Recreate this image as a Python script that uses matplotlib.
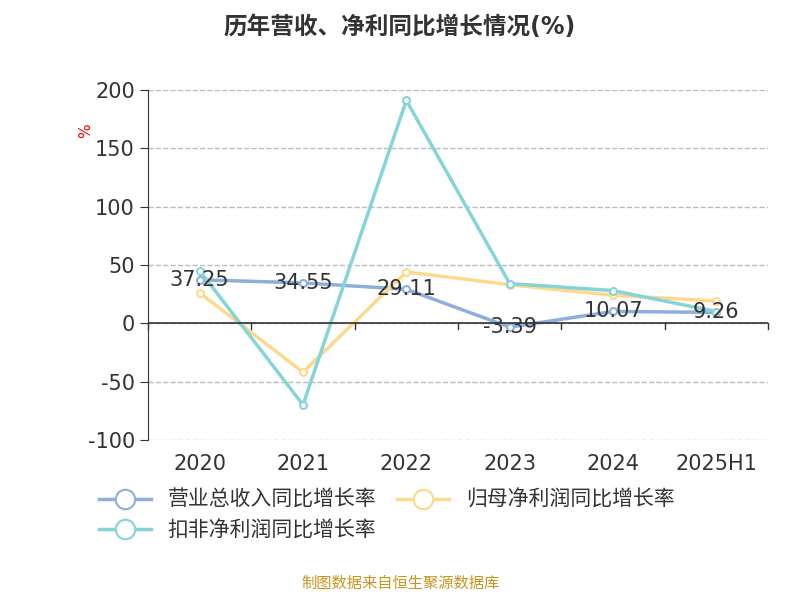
import matplotlib
matplotlib.use("Agg")
import matplotlib.pyplot as plt
import numpy as np

plt.rcParams['font.family'] = ['DejaVu Sans', 'Noto Sans CJK SC']
plt.rcParams['axes.unicode_minus'] = False

categories = ["2020", "2021", "2022", "2023", "2024", "2025H1"]
revenue = [37.25, 34.55, 29.11, -3.39, 10.07, 9.26]
net_profit = [26, -42, 44, 33, 24, 19]
deducted = [45, -70, 191, 34, 28, 10]
names = ["营业总收入同比增长率", "归母净利润同比增长率", "扣非净利润同比增长率"]
colors = ["#8eaedb", "#fdd98e", "#86d4d8"]

fig = plt.figure(figsize=(8, 6), dpi=100)
ax = fig.add_axes([0.185, 0.267, 0.775, 0.583])
x = np.arange(len(categories))
lines = []
for vals, c, n in zip([revenue, net_profit, deducted], colors, names):
    l, = ax.plot(x, vals, color=c, lw=2.5, marker='o', ms=5, mfc='white', mec=c, mew=1.5, label=n)
    lines.append(l)
for xi, v in zip(x, revenue):
    ax.text(xi, v, f"{v:.2f}", ha='center', va='center', fontsize=15, color='#333333')

ax.set_xlim(-0.5, 5.5)
ax.set_ylim(-100, 200)
ax.set_yticks(range(-100, 201, 50))
ax.tick_params(axis='y', labelsize=15, colors='#333333', length=6, color='#333333')
ax.grid(axis='y', ls='--', color='#bbbbbb', lw=1)
for s in ['top', 'right', 'bottom']:
    ax.spines[s].set_visible(False)
ax.spines['left'].set_color('#333333')
ax.axhline(0, color='#333333', lw=1.2)
ax.set_xticks(x)
ax.set_xticklabels(categories, fontsize=15, color='#333333')
ax.tick_params(axis='x', length=0, pad=10)
for b in np.arange(-0.5, 6, 1):
    ax.plot([b, b], [0, -5], color='#333333', lw=1, clip_on=False)
ax.text(-0.1, 0.87, "%", transform=ax.transAxes, color='red', fontsize=11, rotation=90, ha='center')

fig.suptitle("历年营收、净利同比增长情况(%)", fontsize=17, fontweight='bold', color='#333333', y=0.975)
order = [lines[0], lines[2], lines[1]]
leg = fig.legend(order, [l.get_label() for l in order], loc='upper left', bbox_to_anchor=(0.1, 0.215),
                 ncol=2, frameon=False, fontsize=15, handlelength=2.5, columnspacing=1.0,
                 labelcolor='#333333')
for h in leg.legend_handles:
    h.set_markersize(14)
fig.text(0.5, 0.02, "制图数据来自恒生聚源数据库", ha='center', color='#c8961e', fontsize=11)
fig.savefig("out.png")
